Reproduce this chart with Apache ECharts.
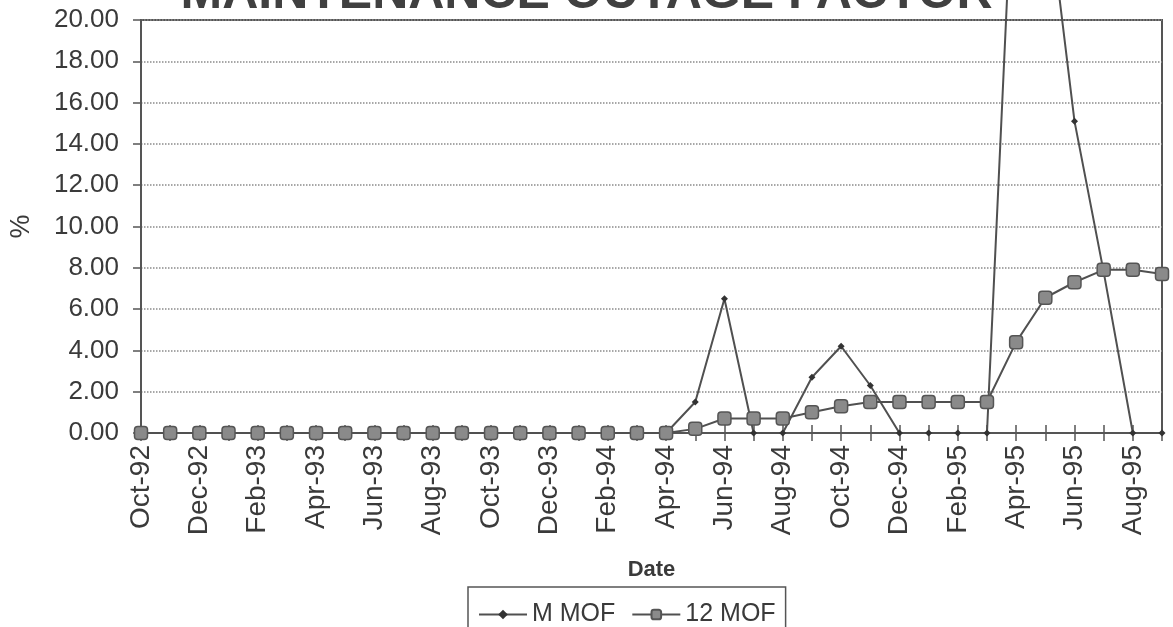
<!DOCTYPE html>
<html>
<head>
<meta charset="utf-8">
<script src="https://cdn.jsdelivr.net/npm/echarts@6/dist/echarts.min.js"></script>
<style>
  html, body { margin: 0; padding: 0; background: #fff; }
  #chart { width: 1173px; height: 627px; }
</style>
</head>
<body>
<div id="chart"></div>
<script>
// months Oct-92 .. Sep-95
const months = [
  'Oct-92', 'Nov-92', 'Dec-92', 'Jan-93', 'Feb-93', 'Mar-93', 'Apr-93', 'May-93', 'Jun-93',
  'Jul-93', 'Aug-93', 'Sep-93', 'Oct-93', 'Nov-93', 'Dec-93', 'Jan-94', 'Feb-94', 'Mar-94',
  'Apr-94', 'May-94', 'Jun-94', 'Jul-94', 'Aug-94', 'Sep-94', 'Oct-94', 'Nov-94', 'Dec-94',
  'Jan-95', 'Feb-95', 'Mar-95', 'Apr-95', 'May-95', 'Jun-95', 'Jul-95', 'Aug-95', 'Sep-95'
]
const mMof = [
  0, 0, 0, 0, 0, 0, 0, 0, 0, 0, 0, 0, 0, 0, 0, 0, 0, 0,
  0, 1.5, 6.5, 0, 0, 2.7, 4.2, 2.3, 0, 0, 0, 0,
  30.6, 26.7, 15.1, 7.8, 0, 0
]
const mof12 = [
  0, 0, 0, 0, 0, 0, 0, 0, 0, 0, 0, 0, 0, 0, 0, 0, 0, 0,
  0, 0.2, 0.7, 0.7, 0.7, 1.0, 1.3, 1.5, 1.5, 1.5, 1.5, 1.5,
  4.4, 6.55, 7.3, 7.9, 7.9, 7.7
]
const yTicks = { min: 0, max: 20, step: 2 }

const font = 'Liberation Sans, Arial, sans-serif'
const ink = '#3a3a3a'
const lineCol = '#505050'

const chart = echarts.init(document.getElementById('chart'))
chart.setOption({
  animation: false,
  textStyle: { fontFamily: font },
  title: {
    text: 'MAINTENANCE OUTAGE FACTOR',
    left: 'center',
    top: -36,
    textStyle: { fontSize: 50, fontWeight: 'bold', color: '#404040', fontFamily: font }
  },
  grid: {
    left: 140,
    right: 11,
    top: 20,
    bottom: 194,
    show: true,
    borderColor: '#555',
    borderWidth: 2
  },
  legend: {
    left: 468,
    top: 587,
    itemWidth: 48,
    itemHeight: 12,
    itemGap: 16,
    padding: [15, 10, 6, 10],
    borderColor: '#555',
    borderWidth: 1.5,
    textStyle: { fontSize: 25, color: ink, fontFamily: font },
    data: ['M MOF', '12 MOF']
  },
  xAxis: [{
    type: 'category',
    data: months,
    boundaryGap: false,
    name: 'Date',
    nameLocation: 'middle',
    nameGap: 126,
    nameTextStyle: { fontSize: 22, fontWeight: 'bold', color: ink },
    axisLine: { lineStyle: { color: '#555', width: 2 } },
    axisTick: { interval: 0, length: 8, lineStyle: { color: '#555', width: 1.5 } },
    axisLabel: { interval: 1, rotate: 90, fontSize: 28, color: ink, margin: 12 },
    splitLine: { show: false }
  }, {
    type: 'category',
    data: months,
    position: 'bottom',
    boundaryGap: false,
    axisLine: { show: false },
    axisTick: { inside: true, interval: 0, length: 8, lineStyle: { color: '#555', width: 1.5 } },
    axisLabel: { show: false },
    splitLine: { show: false }
  }],
  yAxis: {
    type: 'value',
    min: yTicks.min,
    max: yTicks.max,
    interval: yTicks.step,
    name: '%',
    nameLocation: 'middle',
    nameRotate: 90,
    nameGap: 106,
    nameTextStyle: { fontSize: 27, color: ink },
    axisLine: { show: true, lineStyle: { color: '#555', width: 2 } },
    axisTick: { show: true, length: 8, lineStyle: { color: '#555', width: 1.5 } },
    axisLabel: {
      fontSize: 26,
      color: ink,
      margin: 22,
      formatter: v => v.toFixed(2)
    },
    splitLine: { lineStyle: { type: 'dotted', color: '#8a8a8a', width: 1.5 } }
  },
  series: [{
    name: 'M MOF',
    type: 'line',
    data: mMof,
    clip: false,
    symbol: 'diamond',
    symbolSize: 7,
    lineStyle: { color: lineCol, width: 2 },
    itemStyle: { color: '#333' }
  }, {
    name: '12 MOF',
    type: 'line',
    data: mof12,
    clip: false,
    symbol: 'roundRect',
    symbolSize: 13,
    lineStyle: { color: lineCol, width: 2 },
    itemStyle: { color: '#8a8a8a', borderColor: '#555', borderWidth: 1.5 }
  }]
})
</script>
</body>
</html>
